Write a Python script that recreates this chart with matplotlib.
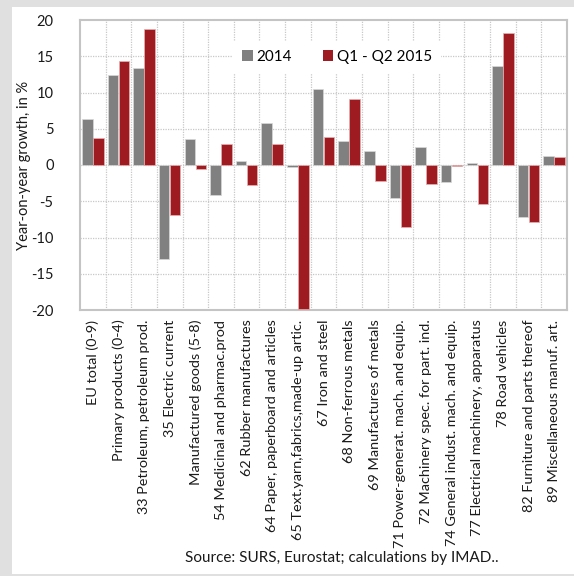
import matplotlib
matplotlib.use("Agg")
import matplotlib.pyplot as plt
from matplotlib.patches import Rectangle, Patch
import numpy as np

plt.rcParams['font.family'] = ['Lato', 'DejaVu Sans']

categories = [
    "EU total (0-9)",
    "Primary products (0-4)",
    "33 Petroleum, petroleum prod.",
    "35 Electric current",
    "Manufactured goods (5-8)",
    "54 Medicinal and pharmac.prod",
    "62 Rubber manufactures",
    "64 Paper, paperboard and articles",
    "65 Text.yarn,fabrics,made-up artic.",
    "67 Iron and steel",
    "68 Non-ferrous metals",
    "69 Manufactures of metals",
    "71 Power-generat. mach. and equip.",
    "72 Machinery spec. for part. ind.",
    "74 General indust. mach. and equip.",
    "77 Electrical machinery, apparatus",
    "78 Road vehicles",
    "82 Furniture and parts thereof",
    "89 Miscellaneous manuf. art.",
]
growth_2014 = [6.4, 12.4, 13.4, -13.0, 3.6, -4.2, 0.6, 5.8, -0.3, 10.5,
               3.3, 1.9, -4.5, 2.5, -2.4, 0.3, 13.6, -7.2, 1.3]
growth_2015 = [3.7, 14.3, 18.8, -6.9, -0.6, 2.9, -2.7, 2.9, -19.8, 3.9,
               9.1, -2.2, -8.6, -2.6, -0.1, -5.4, 18.2, -7.8, 1.1]
series_labels = ["2014", "Q1 - Q2 2015"]
y_ticks = [-20, -15, -10, -5, 0, 5, 10, 15, 20]

grey = "#808080"
red = "#9e1c21"

W, H = 574, 576
fig = plt.figure(figsize=(W / 100, H / 100), dpi=100)
fig.patch.set_facecolor("#dfe0df")
# white panel inside the grey frame
fig.add_artist(Rectangle((12 / W, 2 / H), 1 - 12 / W, 1 - 9 / H,
                         transform=fig.transFigure, facecolor="white",
                         edgecolor="none", zorder=0))

ax = fig.add_axes([80 / W, 1 - 310 / H, 487 / W, 290 / H])
ax.set_facecolor("white")

x = np.arange(len(categories))
bw = 0.41
ax.bar(x - 0.215, growth_2014, width=bw, color=grey, edgecolor="#d8d8d8",
       linewidth=0.5, zorder=3)
ax.bar(x + 0.215, growth_2015, width=bw, color=red, edgecolor="#e8b0b0",
       linewidth=0.5, zorder=3)

ax.set_xlim(-0.5, len(categories) - 0.5)
ax.set_ylim(-20, 20)
ax.set_yticks(y_ticks)
ax.set_yticklabels([str(v) for v in y_ticks], fontsize=10.5, color="#1a1a1a")
ax.set_xticks(x)
ax.set_xticklabels(categories, rotation=90, fontsize=10.4, color="#1a1a1a",
                   va="top", ha="center")
ax.tick_params(axis="both", length=0)
ax.tick_params(axis="y", pad=19)
ax.tick_params(axis="x", pad=7)

# dotted grid: horizontal at each tick, vertical at category boundaries
for v in y_ticks[1:-1]:
    ax.axhline(v, color="#c8c8c8", linestyle=(0, (1, 1)), linewidth=0.9, zorder=1)
for b in np.arange(0.5, len(categories) - 0.5, 1):
    ax.axvline(b, color="#c8c8c8", linestyle=(0, (1, 1)), linewidth=0.9, zorder=1)

for s in ax.spines.values():
    s.set_color("#c4c4c4")
    s.set_linewidth(1.5)

ax.set_ylabel("Year-on-year growth, in %", fontsize=10.5, color="#1a1a1a")
ax.yaxis.set_label_coords(-0.1, 0.5)

handles = [Patch(facecolor=grey, edgecolor="none"),
           Patch(facecolor=red, edgecolor="none")]
leg = ax.legend(handles, series_labels, ncol=2, loc="center",
                bbox_to_anchor=(0.528, 0.872), fontsize=11, frameon=True,
                handlelength=0.7, handleheight=0.7, handletextpad=0.25,
                columnspacing=2.0, borderpad=0.6, fancybox=False)
leg.get_frame().set_facecolor("white")
leg.get_frame().set_edgecolor("none")
leg.get_frame().set_alpha(1)
leg.set_zorder(5)

fig.text(342 / W, 1 - 558 / H, "Source: SURS, Eurostat; calculations by IMAD..",
         ha="center", va="center", fontsize=11, color="#1a1a1a")

fig.savefig("out.png", dpi=100, facecolor=fig.get_facecolor())
